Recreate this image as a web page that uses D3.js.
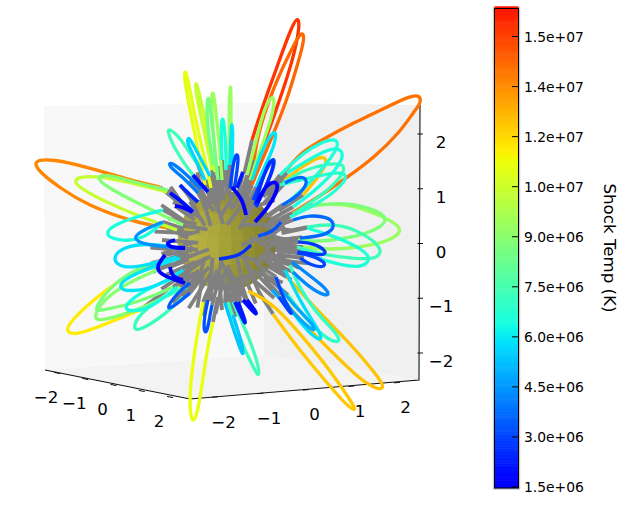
<!DOCTYPE html>
<html>
<head>
<meta charset="utf-8">
<style>
  html, body { margin: 0; padding: 0; background: #fff; }
  svg { display: block; }
  text { font-family: "DejaVu Sans", sans-serif; fill: #000; }
</style>
</head>
<body>
<svg id="chart" width="628" height="511"></svg>
<script src="https://d3js.org/d3.v7.min.js"></script>
<script>
// Axis ticks
const axisTicks = [-2, -1, 0, 1, 2];
const axisLabels = ["\u22122", "\u22121", "0", "1", "2"];

// Colour bar ticks, in kelvin, with their printed labels
const tempDomain = [1.47e6, 15.84e6];
const barTicks = [1.5e6, 3e6, 4.5e6, 6e6, 7.5e6, 9e6, 10.5e6, 12e6, 13.5e6, 15e6];
const barLabels = ["1.5e+06", "3.0e+06", "4.5e+06", "6.0e+06", "7.5e+06", "9.0e+06", "1.0e+07", "1.2e+07", "1.4e+07", "1.5e+07"];

// Shock temperature of each coronal field line (K)
const lineTemps = [
  15.2e6, 14.2e6, 14.0e6, 13.6e6, 12.4e6, 12.4e6, 12.3e6, 11.6e6, 11.1e6, 11.0e6,
  10.3e6, 10.3e6, 9.3e6, 9.4e6, 9.4e6, 9.3e6, 8.9e6, 8.8e6, 8.7e6, 8.7e6,
  8.5e6, 7.3e6, 7.3e6, 7.2e6, 7.2e6, 7.3e6, 7.0e6, 6.8e6, 6.6e6, 6.6e6,
  6.5e6, 6.5e6, 6.5e6, 6.4e6, 5.9e6, 5.9e6, 5.9e6, 5.8e6, 5.8e6, 5.6e6,
  5.3e6, 4.8e6, 4.4e6, 4.2e6, 4.0e6, 3.6e6, 3.6e6, 3.4e6, 3.2e6, 3.2e6,
  3.0e6, 3.0e6, 3.0e6, 3.0e6, 2.8e6, 2.6e6, 2.6e6, 2.4e6, 2.2e6, 2.2e6,
  2.0e6, 2.0e6, 1.9e6, 1.8e6, 1.7e6, 1.7e6, 1.6e6, 1.6e6, 1.6e6
];

// Field line traces on the view plane, in the same order as lineTemps
const linePaths = [
  [[24,104],[34,136],[49,177],[63,216],[70,228],[72,218],[65,184],[50,139],[30,84],[22,66]],
  [[26,84],[30,111],[45,156],[64,196],[74,214],[77,206],[70,181],[59,144],[47,114],[32,79],[24,59]],
  [[57,72],[72,91],[92,103],[125,121],[159,137],[182,148],[192,149],[193,141],[185,131],[172,112],[147,87],[117,65],[92,48],[64,31]],
  [[-68,57],[-98,64],[-141,77],[-175,85],[-195,84],[-190,73],[-168,56],[-141,39],[-95,22],[-61,16]],
  [[57,64],[69,74],[85,84],[95,88],[100,83],[92,69],[75,49]],
  [[59,-33],[87,-64],[119,-96],[149,-131],[157,-144],[150,-146],[132,-136],[97,-101],[72,-76],[52,-51]],
  [[20,-47],[45,-59],[75,-93],[102,-126],[125,-160],[128,-167],[120,-163],[99,-139],[69,-103],[45,-70]],
  [[-88,-26],[-108,-36],[-135,-56],[-158,-78],[-163,-88],[-151,-91],[-125,-81],[-88,-66]],
  [[-25,-58],[-33,-103],[-39,-151],[-37,-178],[-32,-176],[-27,-149],[-21,-106],[-15,-78]],
  [[-23,59],[-34,114],[-43,159],[-44,174],[-41,171],[-33,126],[-23,84],[-17,56]],
  [[-61,52],[-108,64],[-141,69],[-158,64],[-141,51],[-98,31],[-51,14]],
  [[-16,74],[-25,119],[-33,154],[-32,164],[-29,152],[-21,117],[-13,72]],
  [[85,39],[119,41],[152,29],[177,16],[165,4],[135,-3],[99,-6],[75,-3]],
  [[19,69],[27,99],[35,132],[43,148],[47,146],[44,126],[34,99],[22,64]],
  [[-11,69],[-15,114],[-17,147],[-15,154],[-13,141],[-8,94],[-6,64]],
  [[1,79],[1,134],[2,158],[3,158],[3,134],[3,79]],
  [[-71,-26],[-101,-39],[-125,-56],[-136,-75],[-125,-77],[-91,-66],[-68,-56],[-48,-43]],
  [[-60,54],[-95,62],[-121,70],[-133,67],[-121,57],[-91,41],[-45,19]],
  [[79,37],[109,42],[142,37],[162,26],[150,14],[122,6],[89,2],[70,4]],
  [[-65,-16],[-95,-26],[-118,-43],[-136,-68],[-125,-66],[-91,-59],[-55,-43]],
  [[-15,79],[-21,119],[-21,146],[-19,147],[-17,129],[-12,84],[-10,64]],
  [[79,17],[109,21],[135,11],[155,-4],[150,-15],[129,-15],[95,-11],[69,-3]],
  [[-35,69],[-50,89],[-61,112],[-59,116],[-48,106],[-40,94],[-30,79]],
  [[55,61],[75,74],[102,81],[117,80],[116,70],[95,49],[65,30]],
  [[-41,-43],[-65,-53],[-88,-69],[-96,-85],[-88,-87],[-61,-69],[-45,-53]],
  [[0,-58],[12,-96],[27,-127],[31,-133],[31,-122],[20,-91],[5,-58]],
  [[62,-21],[70,-41],[87,-68],[111,-91],[112,-100],[97,-94],[77,-74],[60,-51]],
  [[52,59],[85,67],[109,72],[119,70],[116,60],[92,41],[62,27]],
  [[52,69],[75,91],[92,101],[108,106],[111,99],[102,84],[82,61],[59,41]],
  [[79,16],[109,7],[132,-4],[144,-14],[135,-24],[112,-21],[85,-13],[72,-6]],
  [[59,71],[85,87],[105,97],[116,93],[113,80],[92,57],[65,37]],
  [[-65,34],[-85,29],[-111,21],[-125,10],[-111,3],[-85,4],[-65,22]],
  [[-6,84],[-7,119],[-6,126],[-4,124],[-2,94],[-2,74]],
  [[-53,-34],[-68,-39],[-95,-53],[-105,-65],[-95,-68],[-75,-63],[-51,-43]],
  [[24,64],[34,94],[44,112],[49,112],[45,94],[34,72],[28,57]],
  [[2,79],[3,114],[4,122],[5,114],[4,79]],
  [[-48,-14],[-75,-23],[-101,-33],[-111,-44],[-98,-48],[-71,-43],[-45,-26]],
  [[-51,-4],[-81,1],[-105,-3],[-117,-15],[-105,-25],[-81,-21],[-51,-13]],
  [[57,-26],[75,-63],[95,-92],[92,-98],[75,-83],[54,-53]],
  [[-23,64],[-33,86],[-42,103],[-39,108],[-31,92],[-18,68]],
  [[-3,-59],[4,-81],[13,-108],[16,-112],[13,-96],[5,-71]],
  [[50,-41],[67,-63],[88,-83],[86,-88],[72,-76],[44,-46]],
  [[-65,22],[-85,14],[-96,6],[-85,-1],[-45,-4]],
  [[64,-18],[77,-28],[94,-41],[102,-50],[97,-52],[82,-44],[65,-28]],
  [[-30,51],[-46,68],[-60,78],[-58,83],[-44,72],[-27,55]],
  [[57,61],[69,67],[78,67],[79,58],[67,46],[54,39]],
  [[65,24],[82,29],[99,27],[107,21],[103,11],[85,7],[72,6]],
  [[-38,-39],[-51,-49],[-62,-65],[-56,-64],[-38,-49]],
  [[-20,-56],[-24,-74],[-24,-88],[-21,-89],[-18,-71],[-16,-61]],
  [[30,8],[45,12],[53,22]],
  [[25,44],[39,76],[46,88],[47,78],[35,51],[30,42]],
  [[69,-9],[82,-11],[98,-18],[96,-24],[82,-21],[72,-14]],
  [[48,-33],[55,-54],[65,-71],[62,-69],[51,-53]],
  [[2,56],[5,79],[8,91],[11,88],[8,66],[6,54]],
  [[70,2],[85,1],[99,-7],[96,-12],[79,-9],[70,-8]],
  [[-9,-15],[12,-12],[23,-1]],
  [[27,39],[34,64],[42,85],[46,83],[44,72],[34,49],[28,37]],
  [[-48,59],[-39,50],[-30,42]],
  [[9,56],[12,64],[15,72]],
  [[7,-58],[17,-80],[18,-79],[10,-58]],
  [[-35,69],[-27,60],[-20,52]],
  [[-58,51],[-48,44],[-35,32]],
  [[15,-56],[28,-71],[29,-69],[19,-56]],
  [[-53,38],[-45,37],[-36,32]],
  [[27,22],[40,36],[49,52],[50,62],[42,62],[34,52],[29,41]],
  [[-58,-23],[-56,-33],[-45,-36]],
  [[4,57],[15,44],[18,29]],
  [[-53,4],[-63,1],[-56,-4],[-43,-4]],
  [[-63,-11],[-73,-24],[-65,-32],[-43,-39]]
];

// Open field line stubs around the surface: outer direction (deg), inner-end
// deflection (deg), start radius and end radius
const stubAngles = [354, 348, 358, 2, 8, 13, 340, 345, 351, 335, 24, 37, 52, 63, 84, 92, 98, 104, 110, 118, 126, 134, 142, 150, 158, 165, 173, 180, 186, 193, 198, 205, 212, 219, 226, 232, 238, 244, 250, 255, 260, 265, 270, 275, 280, 286, 292, 298, 305, 312, 318, 325, 330, 20, 45, 75, 100, 130, 160, 190, 215, 240, 262, 285, 310, 330, 350, 5, 60, 115, 175, 205, 255, 295];
const stubSkew = [6, -8, 12, -5, 9, -10, 7, -12, 4, 10, -9, 14, -6, 8, -11, 5, 13, -7, 9, -13, 6, 11, -8, 4, -10, 12, -6, 7, 14, -9, 5, -12, 8, 10, -7, 13, -4, 9, -11, 6, -8, 12, -5, 10, -13, 7, -9, 4, 11, -6, 13, -10, 8, 15, -12, 18, -14, 10, -16, 12, 20, -15, 9, -18, 13, -11, 16, -20, 12, 14, -17, 10, -13, 18];
const stubInner = [42, 44, 40, 42, 46, 46, 44, 40, 48, 44, 44, 40, 36, 34, 32, 30, 34, 28, 36, 30, 36, 34, 30, 38, 30, 34, 30, 24, 32, 28, 36, 30, 34, 26, 36, 30, 38, 32, 36, 30, 38, 30, 36, 26, 34, 40, 30, 42, 34, 42, 36, 44, 40, 26, 20, 24, 16, 22, 18, 26, 20, 24, 18, 22, 26, 24, 28, 20, 16, 18, 24, 16, 20, 22];
const stubOuter = [88, 84, 74, 80, 70, 64, 82, 90, 86, 72, 56, 66, 60, 72, 60, 74, 66, 62, 72, 68, 60, 74, 62, 70, 58, 66, 68, 60, 72, 62, 74, 76, 66, 78, 70, 80, 66, 76, 72, 78, 62, 74, 70, 66, 78, 66, 68, 72, 66, 78, 64, 74, 80, 46, 42, 48, 44, 50, 42, 46, 52, 48, 50, 44, 52, 46, 50, 44, 40, 46, 42, 50, 46, 48];

const svg = d3.select("#chart");

// View-plane scales, centred on the sphere
const viewX = d3.scaleLinear().domain([-228, 400]).range([0, 628]);
const viewY = d3.scaleLinear().domain([244, -267]).range([0, 511]);

// Axis position scales along each drawn edge
const xAxisPx = d3.scaleLinear().domain([-2, 2]).range([57, 170]);
const xAxisPy = d3.scaleLinear().domain([-2, 2]).range([373, 397]);
const yAxisPx = d3.scaleLinear().domain([-2, 2]).range([215, 397]);
const yAxisPy = d3.scaleLinear().domain([-2, 2]).range([397, 382.6]);
const zAxisPy = d3.scaleLinear().domain([-2, 2]).range([353, 134]);

// Jet colour map channels, restricted to the part the colour bar spans
const jetRed = d3.scaleLinear().domain([0.35, 0.66, 0.89]).range([0, 255, 255]).clamp(true);
const jetGreen = d3.scaleLinear().domain([0.125, 0.375, 0.64, 0.91]).range([0, 255, 255, 0]).clamp(true);
const jetBlue = d3.scaleLinear().domain([0.11, 0.34, 0.65]).range([255, 255, 0]).clamp(true);
const tempToJet = d3.scaleLinear().domain(tempDomain).range([0.11, 0.89]);
const tempColor = t => {
  const j = tempToJet(t);
  return d3.rgb(jetRed(j), jetGreen(j), jetBlue(j)).formatRgb();
};

// Back walls and floor of the 3D box
const panes = [
  { fill: "#f8f8f8", pts: [[44, 106], [264, 103], [264, 355], [45, 370]] },
  { fill: "#f0f0f0", pts: [[264, 103], [420, 105], [419, 380], [264, 355]] },
  { fill: "#f3f3f3", pts: [[45, 370], [264, 355], [419, 380], [190, 399]] }
];
svg.append("g").selectAll("polygon").data(panes).join("polygon")
  .attr("points", d => d.pts.join(" "))
  .attr("fill", d => d.fill);

// Box edges
const edges = svg.append("g").attr("stroke", "#111").attr("stroke-width", 1.1).attr("fill", "none");
edges.append("polyline").attr("points", "45,370 190,399 419,380 420,105");

// X axis
const axisG = svg.append("g");
axisG.selectAll(".xt").data(axisTicks).join("line").attr("class", "xt")
  .attr("x1", d => xAxisPx(d) - 3).attr("y1", d => xAxisPy(d) - 0.6)
  .attr("x2", d => xAxisPx(d) + 3).attr("y2", d => xAxisPy(d) + 0.6)
  .attr("stroke", "#111");
axisG.selectAll(".xl").data(axisTicks).join("text").attr("class", "xl")
  .attr("x", d => xAxisPx(d) - 11).attr("y", d => xAxisPy(d) + 30)
  .attr("text-anchor", "middle").attr("font-size", 16.67)
  .text((d, i) => axisLabels[i]);

// Y axis
axisG.selectAll(".yt").data(axisTicks).join("line").attr("class", "yt")
  .attr("x1", d => yAxisPx(d) - 3).attr("y1", d => yAxisPy(d) + 0.3)
  .attr("x2", d => yAxisPx(d) + 3).attr("y2", d => yAxisPy(d) - 0.3)
  .attr("stroke", "#111");
axisG.selectAll(".yl").data(axisTicks).join("text").attr("class", "yl")
  .attr("x", d => yAxisPx(d) + 8.5).attr("y", d => yAxisPy(d) + 30.5)
  .attr("text-anchor", "middle").attr("font-size", 16.67)
  .text((d, i) => axisLabels[i]);

// Z axis
axisG.selectAll(".zt").data(axisTicks).join("line").attr("class", "zt")
  .attr("x1", 417.5).attr("x2", 423)
  .attr("y1", d => zAxisPy(d)).attr("y2", d => zAxisPy(d))
  .attr("stroke", "#111");
axisG.selectAll(".zl").data(axisTicks).join("text").attr("class", "zl")
  .attr("x", 441).attr("y", d => zAxisPy(d) + 14)
  .attr("text-anchor", "middle").attr("font-size", 16.67)
  .text((d, i) => axisLabels[i]);

// Faceted sphere
const centerPx = [227, 241];
const sphereR = 49;
const globe = d3.geoOrthographic().translate(centerPx).scale(sphereR).rotate([20, -12]).clipAngle(90);
const globePath = d3.geoPath(globe);
const lightDir = [-70, 5];
const shade = d3.scaleLinear().domain([0, 0.7, 1.3, 2.2]).range(["#bab544", "#aca73a", "#939030", "#7d7929"]);
const facetStep = 15;
const facets = [];
for (let lon = -180; lon < 180; lon += facetStep) {
  for (let lat = -90; lat < 90; lat += facetStep) {
    facets.push({
      type: "Polygon",
      coordinates: [[[lon, lat], [lon, lat + facetStep], [lon + facetStep, lat + facetStep], [lon + facetStep, lat], [lon, lat]]]
    });
  }
}
svg.append("g").selectAll("path").data(facets).join("path")
  .attr("d", globePath)
  .attr("fill", d => shade(d3.geoDistance(d3.geoCentroid(d), lightDir)))
  .attr("stroke", d => shade(d3.geoDistance(d3.geoCentroid(d), lightDir)))
  .attr("stroke-width", 0.6);

// Grey stubs: the open part of each line close to the surface
const stubG = svg.append("g").attr("stroke", "#808080").attr("stroke-width", 3.8).attr("fill", "none");
const toRad = Math.PI / 180;
stubG.selectAll(".stub").data(stubAngles).join("line").attr("class", "stub")
  .attr("x1", (a, i) => viewX(-6 + stubInner[i] * Math.cos((a + stubSkew[i]) * toRad)))
  .attr("y1", (a, i) => viewY(4 + stubInner[i] * Math.sin((a + stubSkew[i]) * toRad)))
  .attr("x2", (a, i) => viewX(-6 + stubOuter[i] * Math.cos(a * toRad)))
  .attr("y2", (a, i) => viewY(4 + stubOuter[i] * Math.sin(a * toRad)));

// Grey footpoints of each coloured line, running back toward the surface
const feet = [];
linePaths.forEach(p => {
  [p[0], p[p.length - 1]].forEach(e => {
    if (Math.hypot(e[0], e[1]) > 58) feet.push(e);
  });
});
stubG.selectAll(".foot").data(feet).join("line").attr("class", "foot")
  .attr("x1", d => viewX(d[0])).attr("y1", d => viewY(d[1]))
  .attr("x2", d => viewX(d[0] * 0.68)).attr("y2", d => viewY(d[1] * 0.68));

// Coloured field lines, hot ones underneath
const lineGen = d3.line().x(d => viewX(d[0])).y(d => viewY(d[1])).curve(d3.curveBasis);
svg.append("g").attr("fill", "none").attr("stroke-linecap", "butt").attr("stroke-linejoin", "round")
  .selectAll("path").data(linePaths).join("path")
  .attr("d", lineGen)
  .attr("stroke", (d, i) => tempColor(lineTemps[i]))
  .attr("stroke-width", (d, i) => lineTemps[i] < 2.5e6 ? 3.8 : 3.3);

// Colour bar
const barX = 494.5, barW = 24;
const barY = d3.scaleLinear().domain(tempDomain).range([488, 8.5]);
const barG = svg.append("g");
barG.append("rect").attr("x", barX - 1).attr("y", barY.range()[1] - 1)
  .attr("width", barW + 2).attr("height", barY.range()[0] - barY.range()[1] + 2)
  .attr("fill", "none").attr("stroke", "#ccc").attr("stroke-width", 1.5);
const bands = d3.range(256).map(i => tempDomain[0] + (tempDomain[1] - tempDomain[0]) * i / 255);
barG.selectAll(".band").data(bands).join("rect").attr("class", "band")
  .attr("x", barX).attr("width", barW)
  .attr("y", d => barY(d) - 2.2).attr("height", 2.4)
  .attr("fill", d => tempColor(d));
barG.append("rect").attr("x", barX).attr("y", barY.range()[1])
  .attr("width", barW).attr("height", barY.range()[0] - barY.range()[1])
  .attr("fill", "none").attr("stroke", "#000").attr("stroke-width", 1);
barG.selectAll(".tick").data(barTicks).join("line").attr("class", "tick")
  .attr("x1", barX + barW - 6.5).attr("x2", barX + barW)
  .attr("y1", d => barY(d)).attr("y2", d => barY(d))
  .attr("stroke", "#000");
barG.selectAll(".lab").data(barTicks).join("text").attr("class", "lab")
  .attr("x", 524).attr("y", d => barY(d) + 5)
  .attr("font-size", 13.89)
  .text((d, i) => barLabels[i]);
svg.append("text").attr("transform", "translate(604,248) rotate(90)")
  .attr("text-anchor", "middle").attr("font-size", 16.67)
  .text("Shock Temp (K)");
</script>
</body>
</html>
